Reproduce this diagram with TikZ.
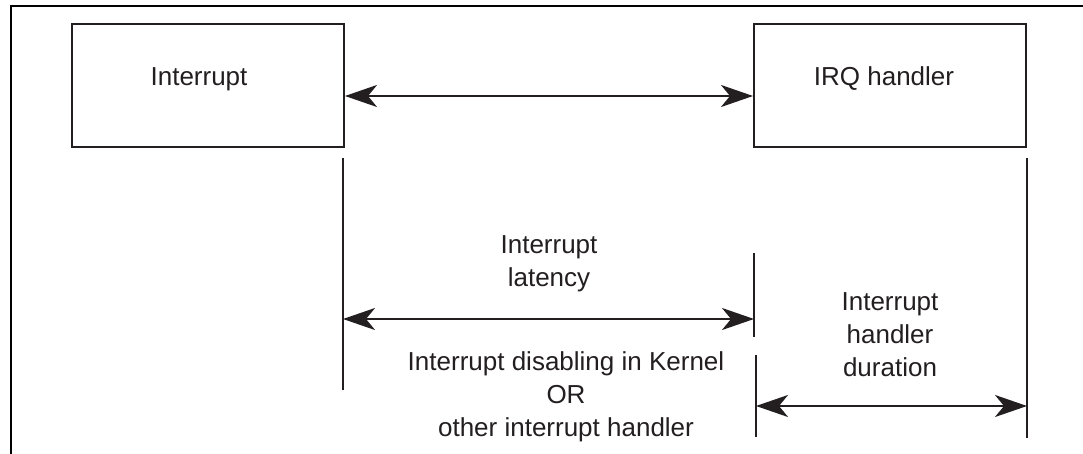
\documentclass[tikz,border=0pt]{standalone}
\usepackage{fontspec}
\setmainfont{Liberation Sans}
\usetikzlibrary{arrows.meta}
\definecolor{ink}{HTML}{231F20}
\tikzset{
  box/.style={draw=ink, line width=2pt, minimum width=272pt, minimum height=123pt, inner sep=0pt},
  txt/.style={text=ink, font=\fontsize{26}{33}\selectfont, align=center, inner sep=0pt},
  tick/.style={draw=ink, line width=2pt},
  span/.style={draw=ink, line width=2pt,
    {Stealth[length=32pt, width=22pt, inset=9pt]}-{Stealth[length=32pt, width=22pt, inset=9pt]}},
  frame/.style={draw=black, line width=2.6pt}
}
\begin{document}
\begin{tikzpicture}[x=1pt, y=-1pt]
  \useasboundingbox (0,0) rectangle (1083,454);
  \fill[white] (0,0) rectangle (1083,454);

  % surrounding figure frame (continues past the picture edge)
  \draw[frame] (11,470) -- (11,6) -- (1100,6);

  % event boxes
  \node[box] (intr) at (208,85.5) {};
  \node[box] (irq)  at (890,86) {};
  \node[txt, anchor=base] (intrlbl) at (199,86) {Interrupt};
  \node[txt, anchor=base] (irqlbl)  at (884,86) {IRQ handler};

  % arrow between the two events
  \draw[span] ([yshift=-10.5pt]intr.east) -- ([yshift=-10pt]irq.west);

  % time markers
  \coordinate (aTop) at (343,158);  \coordinate (aBot) at (343,390);
  \coordinate (bTop) at (754,253);  \coordinate (bBot) at (754,337);
  \coordinate (cTop) at (756,355);  \coordinate (cBot) at (756,437);
  \coordinate (dTop) at (1027,158); \coordinate (dBot) at (1027,438);
  \draw[tick] (aTop) -- (aBot);
  \draw[tick] (bTop) -- (bBot);
  \draw[tick] (cTop) -- (cBot);
  \draw[tick] (dTop) -- (dBot);

  % measured spans
  \coordinate (latL) at (343,319);  \coordinate (latR) at (754,319);
  \coordinate (durL) at (756,406);  \coordinate (durR) at (1027,406);
  \draw[span] (latL) -- (latR);
  \draw[span] (durL) -- (durR);

  % span labels
  \node[txt] (latlbl) at (549,264) {Interrupt\\latency};
  \node[txt] (dislbl) at (566,397) {Interrupt disabling in Kernel\\OR\\other interrupt handler};
  \node[txt] (durlbl) at (890,335) {Interrupt\\handler\\duration};
\end{tikzpicture}
\end{document}
